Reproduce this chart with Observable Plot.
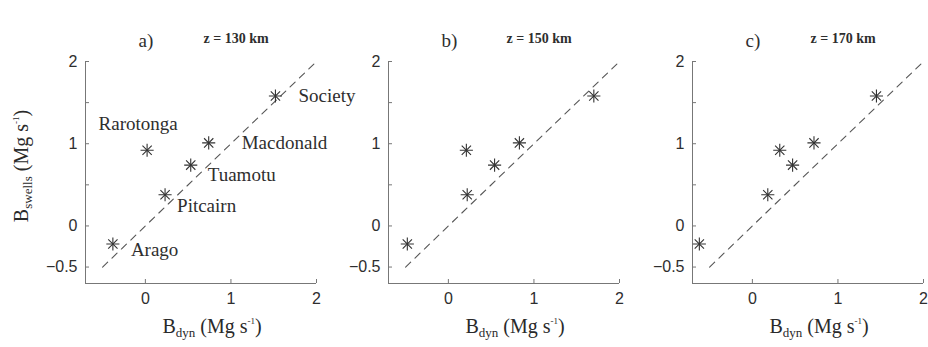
<!DOCTYPE html>
<html><head><meta charset="utf-8">
<script src="https://cdn.jsdelivr.net/npm/d3@7"></script>
<script src="https://cdn.jsdelivr.net/npm/@observablehq/plot@0.6"></script>
<style>
body{margin:0;background:#fff;}
#wrap{position:relative;width:928px;height:347px;overflow:hidden;background:#fff;}
.panel{position:absolute;top:0;overflow:visible;}
.alab{position:absolute;font-family:"Liberation Serif",serif;font-size:20px;color:#2a2a2a;white-space:nowrap;line-height:1;}
.sub{font-size:13px;position:relative;top:4px;}
.sup{font-size:9px;position:relative;top:-9px;}
</style></head><body><div id="wrap"></div>
<script>
// ---- data ----
const hotspots = ["Arago", "Rarotonga", "Pitcairn", "Tuamotu", "Macdonald", "Society"];
const bSwells  = [-0.22, 0.92, 0.38, 0.74, 1.01, 1.58];
const bDyn130  = [-0.38, 0.02, 0.23, 0.53, 0.74, 1.52];
const bDyn150  = [-0.48, 0.21, 0.22, 0.54, 0.83, 1.70];
const bDyn170  = [-0.62, 0.32, 0.18, 0.47, 0.72, 1.45];
const panelLetters = ["a)", "b)", "c)"];
const depthLabels = ["z = 130 km", "z = 150 km", "z = 170 km"];
const yTicks = [-0.5, 0, 0.5, 1, 1.5, 2];
const yTickLabels = ["\u22120.5", "0", "", "1", "", "2"];
const xTicks = [0, 1, 2];
const xTickLabels = ["0", "1", "2"];
const oneToOneLine = [-0.5, 2];
const domainMin = -0.7, domainMax = 2;

const wrap = document.getElementById("wrap");
const serif = "Liberation Serif";
const sans = "Liberation Sans";
const ink = "#2e2e2e";

// label offsets (style, not data) for the annotated panel
const labelPlacement = {
  Arago:     {dx: 18, dy: 6,  textAnchor: "start"},
  Rarotonga: {dx: -9, dy: -26, textAnchor: "middle"},
  Pitcairn:  {dx: 12, dy: 11, textAnchor: "start"},
  Tuamotu:   {dx: 17, dy: 10, textAnchor: "start"},
  Macdonald: {dx: 33, dy: 0,  textAnchor: "start"},
  Society:   {dx: 23, dy: 0,  textAnchor: "start"}
};

function makePanel(i, xs, left, annotate) {
  const data = hotspots.map((name, j) => ({name, x: xs[j], y: bSwells[j]}));
  const diag = oneToOneLine.map(v => ({x: v, y: v}));
  const marks = [
    Plot.line(diag, {x: "x", y: "y", stroke: "#555", strokeWidth: 1.1, strokeDasharray: "7,6"}),
    Plot.ruleX([domainMin], {stroke: "#777", strokeWidth: 1}),
    Plot.ruleY([domainMin], {stroke: "#777", strokeWidth: 1}),
    Plot.axisY({ticks: yTicks, tickFormat: (d) => yTickLabels[yTicks.indexOf(d)], tickSize: -4, tickPadding: 12,
      stroke: "#777", fill: ink, fontSize: 16, fontFamily: sans, label: null}),
    Plot.axisX({ticks: xTicks, tickFormat: (d) => xTickLabels[xTicks.indexOf(d)], tickSize: -4, tickPadding: 13,
      stroke: "#777", fill: ink, fontSize: 16, fontFamily: sans, label: null}),
    Plot.dot(data, {x: "x", y: "y", symbol: "plus", r: 4.3, stroke: "#333", strokeWidth: 1.1}),
    Plot.dot(data, {x: "x", y: "y", symbol: "times", r: 4.3, stroke: "#333", strokeWidth: 1.1}),
    Plot.text([panelLetters[i]], {frameAnchor: "top-left", text: d => d, dx: 53, dy: -28, textAnchor: "start",
      fontFamily: serif, fontSize: 19, fill: ink}),
    Plot.text([depthLabels[i]], {frameAnchor: "top-left", text: d => d, dx: 118, dy: -28, textAnchor: "start",
      fontFamily: serif, fontSize: 14, fontWeight: "bold", fill: ink})
  ];
  if (annotate) {
    for (const name of hotspots) {
      const p = labelPlacement[name];
      marks.push(Plot.text(data.filter(d => d.name === name), {x: "x", y: "y", text: "name",
        dx: p.dx, dy: p.dy, textAnchor: p.textAnchor, fontFamily: serif, fontSize: 19, fill: ink}));
    }
  }
  const svg = Plot.plot({
    width: 320, height: 347,
    marginLeft: 85, marginRight: 4, marginTop: 61, marginBottom: 64,
    style: {background: "transparent", fontFamily: sans, overflow: "visible"},
    x: {domain: [domainMin, domainMax], axis: null},
    y: {domain: [domainMin, domainMax], axis: null},
    marks
  });
  svg.classList.add("panel");
  svg.style.left = left + "px";
  svg.style.overflow = "visible";
  wrap.appendChild(svg);

  const xl = document.createElement("div");
  xl.className = "alab";
  xl.innerHTML = 'B<span class="sub">dyn</span> (Mg s<span class="sup">-1</span>)';
  wrap.appendChild(xl);
  const w = xl.getBoundingClientRect().width;
  xl.style.left = (left + 212 - w / 2) + "px";
  xl.style.top = "316px";
}

makePanel(0, bDyn130, 0, true);
makePanel(1, bDyn150, 303, false);
makePanel(2, bDyn170, 607, false);

const yl = document.createElement("div");
yl.className = "alab";
yl.innerHTML = 'B<span class="sub">swells</span> (Mg s<span class="sup">-1</span>)';
wrap.appendChild(yl);
const r = yl.getBoundingClientRect();
yl.style.left = (21 - r.width / 2) + "px";
yl.style.top = (166 - r.height / 2) + "px";
yl.style.transform = "rotate(-90deg)";
</script></body></html>
